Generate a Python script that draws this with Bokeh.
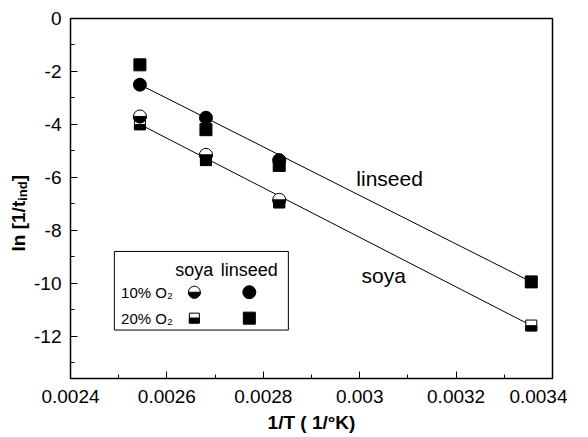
import math
from bokeh.plotting import figure
from bokeh.layouts import row
from bokeh.models import (FixedTicker, Range1d, BoxAnnotation, ColumnDataSource)
from bokeh.core.properties import value
from bokeh.transform import dodge
from bokeh.embed import file_html
from bokeh.resources import INLINE

# ---------------- data ----------------
inv_T = [0.002544, 0.002681, 0.002833, 0.003356]          # 1/T (1/K)
inv_T_10 = [0.002544, 0.002681, 0.002833]
linseed_10 = [-2.5, -3.75, -5.35]
soya_10 = [-3.7, -5.15, -6.85]
linseed_20 = [-1.75, -4.2, -5.55, -9.95]
soya_20 = [-4.0, -5.35, -6.95, -11.6]
fit_x = [0.002544, 0.003356]
linseed_fit = [-2.5, -9.95]
soya_fit = [-4.0, -11.6]

x_ticks = [0.0024, 0.0026, 0.0028, 0.003, 0.0032, 0.0034]
x_tick_labels = ["0.0024", "0.0026", "0.0028", "0.003", "0.0032", "0.0034"]
x_minor = [0.0025, 0.0027, 0.0029, 0.0031, 0.0033]
y_ticks = [0, -2, -4, -6, -8, -10, -12]
y_tick_labels = ["0", "-2", "-4", "-6", "-8", "-10", "-12"]
y_minor = [-1, -3, -5, -7, -9, -11, -13]

FONT = "Liberation Sans"
TOP, FRAME_H, BOTTOM = 18, 360, 57

yr = Range1d(-13.6, 0)
p = figure(frame_width=482, frame_height=FRAME_H,
           min_border_left=37, min_border_right=15, min_border_top=TOP, min_border_bottom=BOTTOM,
           x_range=Range1d(0.0024, 0.0034), y_range=yr,
           output_backend="svg", toolbar_location=None)
p.grid.visible = False
p.outline_line_color = "black"
p.outline_line_width = 1.5
p.background_fill_color = "white"
p.border_fill_color = "white"

for ax in (p.xaxis[0], p.yaxis[0]):
    ax.major_tick_in = 7
    ax.major_tick_out = 0
    ax.minor_tick_in = 4
    ax.minor_tick_out = 0
    ax.axis_line_color = "black"
    ax.major_tick_line_color = "black"
    ax.minor_tick_line_color = "black"
    ax.major_label_text_font = FONT
    ax.major_label_text_font_size = "19px"
    ax.major_label_text_color = "black"
    ax.axis_label_text_font = FONT
    ax.axis_label_text_font_size = "19px"
    ax.axis_label_text_font_style = "bold"
    ax.axis_label_text_color = "black"

p.xaxis[0].ticker = FixedTicker(ticks=x_ticks, minor_ticks=x_minor)
p.xaxis[0].major_label_overrides = dict(zip(x_ticks, x_tick_labels))
p.xaxis[0].axis_label = "1/T ( 1/\u00b0K)"
p.xaxis[0].major_label_standoff = 11
p.xaxis[0].axis_label_standoff = 6

p.yaxis[0].ticker = FixedTicker(ticks=y_ticks, minor_ticks=y_minor)
p.yaxis[0].major_label_overrides = dict(zip(y_ticks, y_tick_labels))
p.yaxis[0].major_label_standoff = 9

# fit lines
p.line(fit_x, linseed_fit, line_color="black", line_width=1)
p.line(fit_x, soya_fit, line_color="black", line_width=1)

# soya 20% : square, top white, bottom black
s20 = ColumnDataSource(dict(x=inv_T, y=soya_20))
p.scatter("x", "y", source=s20, marker="square", size=11, fill_color="white", line_color="black", line_width=1)
p.rect(x="x", y=dodge("y", -0.1, range=p.y_range), width=11, height=5,
       width_units="screen", height_units="screen", source=s20, fill_color="black", line_color="black")

# soya 10% : circle, top white, bottom black
s10 = ColumnDataSource(dict(x=inv_T_10, y=soya_10))
p.scatter("x", "y", source=s10, marker="circle", size=13, fill_color="white", line_color="black", line_width=1)
p.wedge(x="x", y="y", radius=6.5, radius_units="screen", start_angle=math.pi, end_angle=2 * math.pi,
        source=s10, fill_color="black", line_color="black")

# linseed
p.scatter(inv_T_10, linseed_10, marker="circle", size=13, fill_color="black", line_color="black")
p.scatter(inv_T, linseed_20, marker="square", size=12, fill_color="black", line_color="black")

# curve labels
p.text(x=[0.003062], y=[-6.04], text=["linseed"], text_font=value(FONT), text_font_size="21px",
       text_align="center", text_baseline="middle", text_color="black")
p.text(x=[0.00305], y=[-9.7], text=["soya"], text_font=value(FONT), text_font_size="21px",
       text_align="center", text_baseline="middle", text_color="black")

# legend box
p.add_layout(BoxAnnotation(left=0.002491, right=0.002852, top=-8.8, bottom=-11.77, level="underlay",
                           fill_color="white", fill_alpha=1, line_color="black", line_alpha=1, line_width=1))
leg_series = ["soya", "linseed"]
leg_rows = ["10% O\u2082", "20% O\u2082"]
leg_x = [0.002657, 0.002771]
p.text(x=leg_x, y=[-9.5, -9.5], text=leg_series, text_font=value(FONT),
       text_font_size="18px", text_align="center", text_baseline="middle", text_color="black")
p.text(x=[0.002505, 0.002505], y=[-10.34, -11.32], text=leg_rows, text_font=value(FONT),
       text_font_size="15px", text_align="left", text_baseline="middle", text_color="black")
lg10 = ColumnDataSource(dict(x=[leg_x[0]], y=[-10.34]))
p.scatter("x", "y", source=lg10, marker="circle", size=12, fill_color="white", line_color="black")
p.wedge(x="x", y="y", radius=6, radius_units="screen", start_angle=math.pi, end_angle=2 * math.pi,
        source=lg10, fill_color="black", line_color="black")
lg20 = ColumnDataSource(dict(x=[leg_x[0]], y=[-11.32]))
p.scatter("x", "y", source=lg20, marker="square", size=10, fill_color="white", line_color="black")
p.rect(x="x", y=dodge("y", -0.09, range=p.y_range), width=10, height=5,
       width_units="screen", height_units="screen", source=lg20, fill_color="black", line_color="black")
p.scatter([leg_x[1]], [-10.34], marker="circle", size=13, fill_color="black", line_color="black")
p.scatter([leg_x[1]], [-11.32], marker="square", size=12, fill_color="black", line_color="black")

# y-axis title (with subscript) drawn in a narrow side panel sharing the y range
py = figure(frame_width=31, frame_height=FRAME_H, min_border_left=0, min_border_right=0,
            min_border_top=TOP, min_border_bottom=BOTTOM, x_range=Range1d(0, 1), y_range=yr,
            x_axis_type=None, y_axis_type=None, output_backend="svg", toolbar_location=None)
py.grid.visible = False
py.outline_line_color = None
py.border_fill_color = "white"
py.background_fill_color = "white"
ylab_kw = dict(angle=math.pi / 2, text_font=value(FONT), text_font_style="bold", text_color="black",
               text_align="left", text_baseline="middle")
py.text(x=[0.57], y=[-8.8], text=["ln [1/t"], text_font_size="19px", **ylab_kw)
py.text(x=[0.70], y=[-6.89], text=["ind"], text_font_size="13px", **ylab_kw)
py.text(x=[0.57], y=[-6.15], text=[" ]"], text_font_size="19px", **ylab_kw)

layout = row(py, p, spacing=0)
open("out.html", "w").write(file_html(layout, INLINE))
